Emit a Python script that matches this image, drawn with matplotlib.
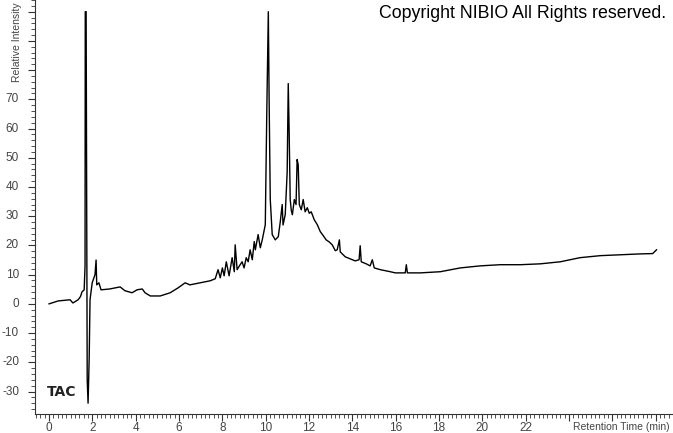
import numpy as np
import matplotlib.pyplot as plt
from matplotlib.ticker import MultipleLocator

# retention time (min) and relative intensity
rt = [0.0, 0.42, 0.97, 1.1, 1.34, 1.45, 1.52, 1.62, 1.66, 1.67, 1.71, 1.76, 1.80, 1.85,
      1.89, 1.99, 2.12, 2.17, 2.2, 2.3, 2.4, 2.8, 3.28, 3.5, 3.83, 4.06, 4.3, 4.43,
      4.67, 5.13, 5.59, 5.96, 6.28, 6.5, 6.97, 7.44, 7.67, 7.8, 7.9, 8.0, 8.08, 8.18,
      8.31, 8.45, 8.55, 8.59, 8.68, 8.82, 8.91, 9.0, 9.1, 9.19, 9.28, 9.38, 9.47,
      9.52, 9.65, 9.75, 9.84, 9.98, 10.05, 10.12, 10.16, 10.21, 10.3, 10.44, 10.58,
      10.67, 10.76, 10.8, 10.9, 10.99, 11.04, 11.08, 11.13, 11.18, 11.23, 11.32, 11.4,
      11.45, 11.5, 11.55, 11.64, 11.73, 11.82, 11.92, 12.01, 12.1, 12.24, 12.38,
      12.52, 12.66, 12.79, 12.93, 13.07, 13.21, 13.3, 13.4, 13.44, 13.67, 13.9,
      14.13, 14.31, 14.36, 14.41, 14.64, 14.82, 14.92, 15.01, 15.29, 15.75, 15.98,
      16.44, 16.49, 16.54, 17.14, 18.06, 18.98, 19.9, 20.83, 21.76, 22.68, 23.6,
      24.5, 25.45, 26.4, 27.3, 27.86, 28.04]
intensity = [0.0, 1.0, 1.4, 0.3, 1.4, 2.5, 4.1, 4.8, 13.0, 100.0, 100.0, -26.0, -34.0,
             -19.0, 1.4, 7.2, 10.0, 15.0, 6.5, 7.2, 4.8, 5.1, 5.8, 4.5, 3.8, 4.8, 5.1,
             3.8, 2.7, 2.7, 3.8, 5.5, 7.2, 6.5, 7.2, 7.9, 8.6, 11.7, 8.9, 12.3, 9.6,
             14.4, 9.6, 15.8, 11.0, 20.2, 11.7, 13.4, 14.4, 12.3, 15.8, 14.4, 18.5,
             15.1, 21.3, 18.5, 23.7, 19.2, 21.9, 27.1, 66.0, 100.0, 68.0, 35.7, 23.7,
             21.9, 23.0, 28.0, 34.0, 27.0, 30.5, 45.0, 75.4, 59.6, 35.7, 32.0, 30.5,
             35.7, 34.0, 49.4, 47.5, 34.0, 32.2, 35.7, 31.5, 32.9, 31.0, 31.5, 28.8,
             27.1, 24.7, 23.3, 21.9, 21.2, 20.2, 18.2, 18.5, 21.9, 17.8, 16.1, 15.4,
             14.7, 15.1, 19.9, 14.4, 13.7, 13.0, 15.1, 12.3, 11.7, 11.0, 10.6, 10.6,
             13.4, 10.6, 10.6, 11.0, 12.3, 13.0, 13.4, 13.4, 13.7, 14.4, 15.8, 16.5,
             16.8, 17.1, 17.2, 18.5]

x_ticks = np.arange(0, 23, 2)
y_ticks = np.arange(-30, 71, 10)

plt.rcParams['font.family'] = ['Liberation Sans', 'DejaVu Sans']

fig = plt.figure(figsize=(6.73, 4.33), dpi=100)
ax = fig.add_axes([35 / 673, 19 / 433, 1 - 35 / 673, 1 - 19 / 433])
ax.plot(rt, intensity, color='black', lw=1.0)

ax.set_xlim(-0.65, 28.8)
ax.set_ylim(-37.7, 104)
ax.spines['top'].set_visible(False)
ax.spines['right'].set_visible(False)
for s in ['left', 'bottom']:
    ax.spines[s].set_color('#333333')
    ax.spines[s].set_linewidth(0.8)

ax.xaxis.set_major_locator(MultipleLocator(2))
ax.xaxis.set_minor_locator(MultipleLocator(0.2))
ax.yaxis.set_major_locator(MultipleLocator(10))
ax.yaxis.set_minor_locator(MultipleLocator(2))
ax.set_xticklabels([])
ax.set_yticklabels([])
ax.tick_params(which='major', length=5, width=0.8, color='#333333')
ax.tick_params(which='minor', length=3, width=0.6, color='#333333')

for t in x_ticks:
    ax.text(t, -0.035, str(t), transform=ax.get_xaxis_transform(),
            ha='center', va='center', fontsize=8.5, color='#444444')
for v in y_ticks:
    ax.text(-0.025, v, str(v), transform=ax.get_yaxis_transform(),
            ha='right', va='center', fontsize=8.5, color='#444444')

fig.text(17 / 673, 1 - 2 / 433, 'Relative Intensity', rotation=90,
         ha='center', va='top', fontsize=7.5, color='#444444')
fig.text(670 / 673, 1 - 427 / 433, 'Retention Time (min)',
         ha='right', va='center', fontsize=7.5, color='#444444')
fig.text(666 / 673, 1 - 14 / 433, 'Copyright NIBIO All Rights reserved.',
         ha='right', va='center', fontsize=12.8, color='black')
ax.text(47 / 673, 1 - 392 / 433, 'TAC', transform=fig.transFigure,
        ha='left', va='center', fontsize=10, fontweight='bold',
        family='DejaVu Sans', color='#222222')

fig.savefig('out.png', dpi=100)
